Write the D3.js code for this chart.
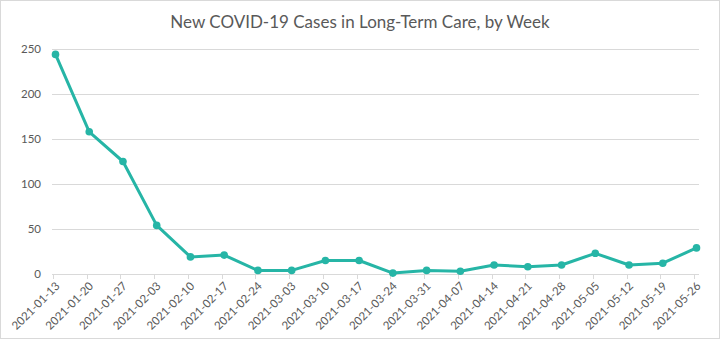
<!DOCTYPE html>
<html>
<head>
<meta charset="utf-8">
<script src="https://cdn.jsdelivr.net/npm/d3@7"></script>
<style>
  body { margin: 0; background: #fff; }
  text { font-family: Lato, "Open Sans", sans-serif; fill: #595959; }
</style>
</head>
<body>
<svg id="chart" width="721" height="342"></svg>
<script>
// weekly data
var weeks = ["2021-01-13","2021-01-20","2021-01-27","2021-02-03","2021-02-10","2021-02-17",
  "2021-02-24","2021-03-03","2021-03-10","2021-03-17","2021-03-24","2021-03-31","2021-04-07",
  "2021-04-14","2021-04-21","2021-04-28","2021-05-05","2021-05-12","2021-05-19","2021-05-26"];
var newCases = [244, 158, 125, 54, 19, 21, 4, 4, 15, 15, 1, 4, 3, 10, 8, 10, 23, 10, 12, 29];
var yTicks = [0, 50, 100, 150, 200, 250];
var title = "New COVID-19 Cases in Long-Term Care, by Week";

var svg = d3.select("#chart");

// outer border
svg.append("rect")
	.attr("x", 0.5).attr("y", 0.5)
	.attr("width", 719).attr("height", 338)
	.attr("fill", "#fff")
	.attr("stroke", "#d9d9d9");

var plot = { left: 52, right: 699, top: 49, bottom: 274 };

var x = d3.scalePoint()
	.domain(weeks)
	.range([55.5, 696.5]);
var y = d3.scaleLinear()
	.domain([0, 250])
	.range([plot.bottom, plot.top]);

svg.append("text")
	.attr("x", 360).attr("y", 28)
	.attr("text-anchor", "middle")
	.style("font-size", "17px")
	.text(title);

// gridlines + y labels
var yAxis = svg.append("g");
yAxis.selectAll("line")
	.data(yTicks.filter(function(d) { return d > 0; }))
	.enter().append("line")
	.attr("x1", plot.left).attr("x2", plot.right)
	.attr("y1", function(d) { return Math.round(y(d)) + 0.5; })
	.attr("y2", function(d) { return Math.round(y(d)) + 0.5; })
	.attr("stroke", "#d9d9d9");
yAxis.selectAll("text")
	.data(yTicks)
	.enter().append("text")
	.attr("x", 41)
	.attr("y", function(d) { return y(d) + 4; })
	.attr("text-anchor", "end")
	.style("font-size", "11.5px")
	.text(function(d) { return d; });

// x axis line and ticks
var xAxis = svg.append("g");
xAxis.append("line")
	.attr("x1", plot.left).attr("x2", plot.right)
	.attr("y1", plot.bottom + 0.5).attr("y2", plot.bottom + 0.5)
	.attr("stroke", "#d9d9d9");
xAxis.selectAll("line.tick")
	.data(weeks)
	.enter().append("line")
	.attr("class", "tick")
	.attr("x1", function(d) { return Math.round(x(d) - 2.5) + 0.5; })
	.attr("x2", function(d) { return Math.round(x(d) - 2.5) + 0.5; })
	.attr("y1", plot.bottom).attr("y2", plot.bottom + 5)
	.attr("stroke", "#d9d9d9");
xAxis.selectAll("text")
	.data(weeks)
	.enter().append("text")
	.attr("transform", function(d) { return "translate(" + (x(d) + 2) + "," + (plot.bottom + 10) + ") rotate(-45)"; })
	.attr("text-anchor", "end")
	.attr("dy", "0.35em")
	.style("font-size", "11.5px")
	.text(function(d) { return d; });

// series
var line = d3.line()
	.x(function(d, i) { return x(weeks[i]); })
	.y(function(d) { return y(d); });

svg.append("path")
	.datum(newCases)
	.attr("d", line)
	.attr("fill", "none")
	.attr("stroke", "#26b5a6")
	.attr("stroke-width", 3)
	.attr("stroke-linejoin", "round");

svg.selectAll("circle.pt")
	.data(newCases)
	.enter().append("circle")
	.attr("class", "pt")
	.attr("cx", function(d, i) { return x(weeks[i]); })
	.attr("cy", function(d) { return y(d); })
	.attr("r", 3.8)
	.attr("fill", "#26b5a6");
</script>
</body>
</html>
